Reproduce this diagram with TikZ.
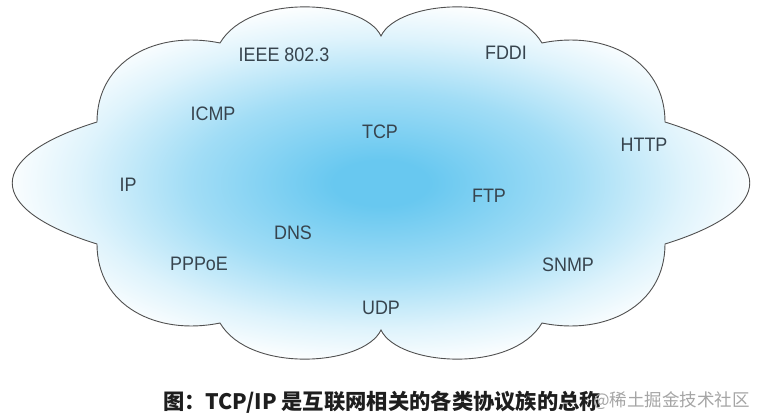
\documentclass[tikz,border=0pt]{standalone}
\usepackage{fontspec}
\setmainfont{Liberation Sans}[FakeStretch=0.92]
\newfontfamily\cjk{Noto Sans CJK SC}
\definecolor{cblue}{RGB}{104,200,240}
\definecolor{labelc}{RGB}{55,68,78}
\definecolor{edgec}{RGB}{80,80,80}
\definecolor{capc}{RGB}{30,30,30}
\definecolor{wmc}{RGB}{165,165,165}
\pgfdeclareradialshading{cloudshade}{\pgfpoint{0bp}{0bp}}{%
  color(0bp)=(cblue); color(3bp)=(cblue); color(12bp)=(cblue!62!white);
  color(19bp)=(cblue!22!white); color(24bp)=(white); color(50bp)=(white)}
\tikzset{
  proto/.style={font=\fontsize{19.5}{22}\selectfont, text=labelc, inner sep=0pt},
  captext/.style={font=\cjk\bfseries\fontsize{21.3}{24}\selectfont, text=capc, inner sep=0pt, anchor=west},
  wmtext/.style={font=\cjk\fontsize{17.5}{20}\selectfont, text=wmc, inner sep=0pt, anchor=west},
}
\begin{document}
\begin{tikzpicture}[x=1pt,y=-1pt]
\useasboundingbox (0,0) rectangle (763,420);
\fill[white] (0,0) rectangle (763,420);
\path[shading=cloudshade, draw=edgec, line width=0.9pt, line join=miter]
  (381,36) .. controls (398,0) and (512,-8) .. (542,43)
  .. controls (605,30) and (665,60) .. (665,122)
  .. controls (778,157) and (778,209) .. (665,244)
  .. controls (665,306) and (605,336) .. (542,323)
  .. controls (512,374) and (398,366) .. (381,330)
  .. controls (364,366) and (250,374) .. (220,323)
  .. controls (157,336) and (97,306) .. (97,244)
  .. controls (-16,209) and (-16,157) .. (97,122)
  .. controls (97,60) and (157,30) .. (220,43)
  .. controls (250,-8) and (364,0) .. (381,36) -- cycle;
\node[proto] (ieee) at (284,55) {IEEE 802.3};
\node[proto] (fddi) at (506,53) {FDDI};
\node[proto] (icmp) at (213,114) {ICMP};
\node[proto] (tcp) at (380,132) {TCP};
\node[proto] (http) at (644,145) {HTTP};
\node[proto] (ip) at (128,185) {IP};
\node[proto] (ftp) at (489,196) {FTP};
\node[proto] (dns) at (293,233) {DNS};
\node[proto] (pppoe) at (199,264) {PPPoE};
\node[proto] (snmp) at (568,265) {SNMP};
\node[proto] (udp) at (381,308) {UDP};
\node[captext] (cap) at (163,402) {图：TCP/IP 是互联网相关的各类协议族的总称};
\node[wmtext] (wm) at (593,401) {@稀土掘金技术社区};
\end{tikzpicture}
\end{document}
